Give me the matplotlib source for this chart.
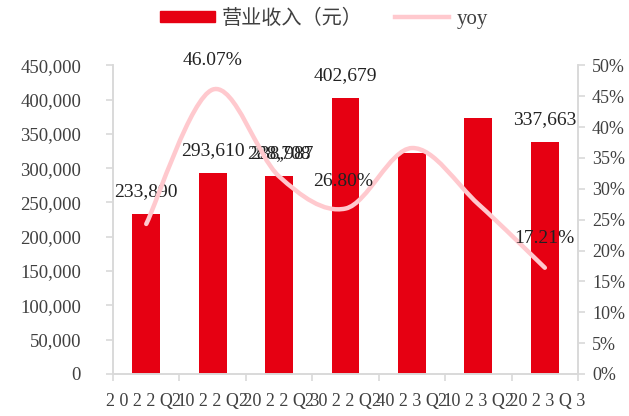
import numpy as np
import matplotlib.pyplot as plt
from matplotlib.path import Path
from matplotlib.patches import PathPatch
from matplotlib.lines import Line2D
from matplotlib.patches import Patch
from matplotlib.ticker import FuncFormatter, FixedLocator

# data
quarters = ['2022Q1', '2022Q2', '2022Q3', '2022Q4', '2023Q1', '2023Q2', '2023Q3']
revenue = [233890, 293610, 288708, 402679, 322000, 373000, 337663]
yoy = [0.243, 0.4607, 0.320, 0.268, 0.366, 0.275, 0.1721]
# which bars/points carry a data label
bar_labels = ['233,890', '293,610', '288,708', '402,679', None, None, '337,663']
yoy_labels = [None, '46.07%', None, '26.80%', None, None, '17.21%']

serif = 'Liberation Serif'
cjk = 'Noto Sans CJK SC'
red = '#E60012'
pink = '#FFC9CE'
grey = '#D9D9D9'
txt = '#404040'

fig = plt.figure(figsize=(6.29, 4.16), dpi=100)
ax = fig.add_axes([0.1797, 0.101, 0.7393, 0.742])
ax2 = ax.twinx()

x = np.arange(len(quarters))
ax.bar(x, revenue, width=0.42, color=red, zorder=2)
ax.set_xlim(-0.5, len(quarters) - 0.5)
ax.set_ylim(0, 450000)
ax.set_yticks(range(0, 450001, 50000))
ax.yaxis.set_major_formatter(FuncFormatter(lambda v, p: f'{int(v):,}'))

ax2.set_ylim(0, 0.5)
ax2.set_yticks(np.arange(0, 0.501, 0.05))
ax2.yaxis.set_major_formatter(FuncFormatter(lambda v, p: f'{v * 100:.0f}%'))

# smooth line (Catmull-Rom style bezier through the data points)
pts = np.column_stack([x, yoy])
verts = [pts[0]]
codes = [Path.MOVETO]
n = len(pts)
for i in range(n - 1):
    p0 = pts[max(i - 1, 0)]
    p1 = pts[i]
    p2 = pts[i + 1]
    p3 = pts[min(i + 2, n - 1)]
    c1 = p1 + (p2 - p0) / 6
    c2 = p2 - (p3 - p1) / 6
    verts += [c1, c2, p2]
    codes += [Path.CURVE4] * 3
ax2.add_patch(PathPatch(Path(verts, codes), facecolor='none', edgecolor=pink,
                        lw=3.2, capstyle='round', zorder=3))

# spines / ticks
for a in (ax, ax2):
    a.spines['top'].set_visible(False)
    for s in ('left', 'right', 'bottom'):
        a.spines[s].set_color(grey)
        a.spines[s].set_linewidth(1.2)
ax.tick_params(axis='y', colors=grey, length=5, width=1.2, labelcolor=txt,
               labelsize=13.5, pad=18)
ax2.tick_params(axis='y', colors=grey, length=5, width=1.2, labelcolor=txt,
                labelsize=13, pad=5)
ax.set_xticks(x)
ax.set_xticklabels([' '.join(q) for q in quarters])
ax.xaxis.set_minor_locator(FixedLocator(np.arange(-0.5, len(quarters), 1)))
ax.tick_params(axis='x', which='major', length=0, labelsize=13,
               labelcolor=txt, pad=14)
ax.tick_params(axis='x', which='minor', length=5, width=1.2, colors=grey)
for lab in ax.get_xticklabels() + ax.get_yticklabels() + ax2.get_yticklabels():
    lab.set_fontfamily(serif)

# labels
lab_kw = dict(textcoords='offset points', ha='center', va='bottom', fontsize=14,
              family=serif, color='#222222', zorder=4)
for i, lab in enumerate(bar_labels):
    if lab:
        ax.annotate(lab, (x[i], revenue[i]), xytext=(0, 10), **lab_kw)
ax.annotate('238,987', (x[2], revenue[2]), xytext=(2, 10), **lab_kw)
for i, lab in enumerate(yoy_labels):
    if lab:
        off = (-2, 13) if i == 3 else (0, 15)
        ax2.annotate(lab, (x[i], yoy[i]), xytext=off, **lab_kw)

# legend
handles = [Patch(color=red), Line2D([], [], color=pink, lw=3.2)]
leg = fig.legend(handles, ['营业收入（元）', 'yoy'], loc='upper center',
                 bbox_to_anchor=(0.515, 1.025), ncol=2, frameon=False,
                 prop={'family': [cjk, serif], 'size': 14.5},
                 handlelength=2.7, handleheight=0.45, columnspacing=1.6, handletextpad=0.35)
for t in leg.get_texts():
    t.set_color(txt)
leg.get_texts()[1].set_fontfamily(serif)
leg.get_texts()[1].set_fontsize(15)

fig.savefig('out.png', dpi=100)
